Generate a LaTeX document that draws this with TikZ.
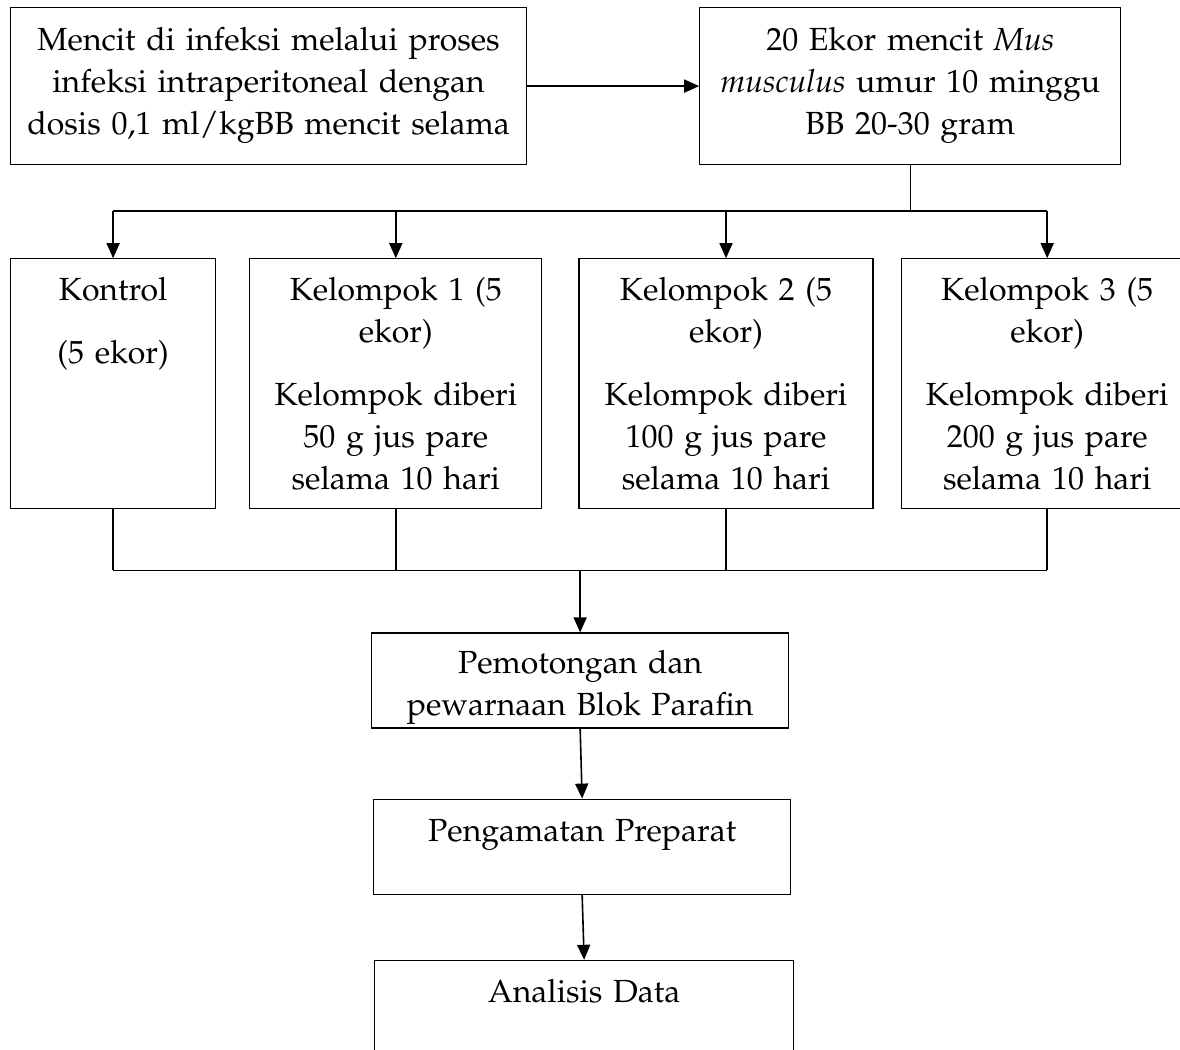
\documentclass[tikz,border=0pt]{standalone}
\usepackage[T1]{fontenc}
\usepackage{mathpazo}
\usetikzlibrary{arrows.meta, positioning, calc}

\begin{document}
\begin{tikzpicture}[font=\fontsize{16}{21}\selectfont,
    box/.style={rectangle, draw, line width=0.6pt, inner xsep=0pt, inner ysep=0pt, align=center, text height=21pt},
    line/.style={draw, line width=0.8pt},
    arr/.style={draw, line width=0.8pt, -{Triangle[length=7.5pt,width=6.5pt]}}
]
    \useasboundingbox (0,0) rectangle (590pt,-525pt);
    \clip (0,0) rectangle (590pt,-525pt);

    % Persiapan
    \node [box, text width=258pt, text height=21.5pt, text depth=57pt, anchor=north west] (infeksi) at (5pt,-3.5pt)
        {Mencit di infeksi melalui proses\\ infeksi intraperitoneal dengan\\ dosis 0,1 ml/kgBB mencit selama};
    \node [box, text width=210.5pt, text height=21.5pt, text depth=57pt, right=86pt of infeksi] (mencit)
        {20 Ekor mencit \textit{Mus}\\ \textit{musculus} umur 10 minggu\\ BB 20-30 gram};

    % Kelompok
    \node [box, text width=102.5pt, text depth=104pt, below=46.5pt of infeksi.south west, anchor=north west] (kontrol)
        {Kontrol\\[10.5pt] (5 ekor)};
    \node [box, text width=146pt, text depth=104pt, right=16.5pt of kontrol] (k1)
        {Kelompok 1 (5\\ ekor)\\[10.5pt] Kelompok diberi\\ 50 g jus pare\\ selama 10 hari};
    \node [box, text width=147pt, text depth=104pt, right=18pt of k1] (k2)
        {Kelompok 2 (5\\ ekor)\\[10.5pt] Kelompok diberi\\ 100 g jus pare\\ selama 10 hari};
    \node [box, text width=146pt, text depth=104pt, right=13.5pt of k2] (k3)
        {Kelompok 3 (5\\ ekor)\\[10.5pt] Kelompok diberi\\ 200 g jus pare\\ selama 10 hari};

    % Pengolahan
    \coordinate (mid) at ($(kontrol.south)!0.5!(k3.south)$);
    \node [box, text width=208.5pt, text height=20pt, text depth=27.5pt, below=61.5pt of mid] (potong)
        {Pemotongan dan\\ pewarnaan Blok Parafin};
    \node [box, text width=208.5pt, text depth=26.5pt, below=35pt of potong, xshift=1pt] (amati)
        {Pengamatan Preparat};
    \node [box, text width=209.5pt, text depth=40pt, below=32.5pt of amati, xshift=1pt] (analisis)
        {Analisis Data};

    % Connections
    \coordinate (topbus) at ($(mencit.south)+(0,-23pt)$);
    \coordinate (botbus) at ($(kontrol.south)+(0,-30.5pt)$);
    \path [arr] (infeksi) -- (mencit);
    \path [line] (mencit.south) -- (topbus);
    \path [line] (kontrol.north |- topbus) -- (k3.north |- topbus);
    \foreach \g in {kontrol, k1, k2, k3} {
        \path [arr] (\g.north |- topbus) -- (\g.north);
        \path [line] (\g.south) -- (\g.south |- botbus);
    }
    \path [line] (kontrol.south |- botbus) -- (k3.south |- botbus);
    \path [arr] (potong.north |- botbus) -- (potong.north);
    \path [arr] (potong.south) -- (amati.north);
    \path [arr] (amati.south) -- (analisis.north);
\end{tikzpicture}
\end{document}
